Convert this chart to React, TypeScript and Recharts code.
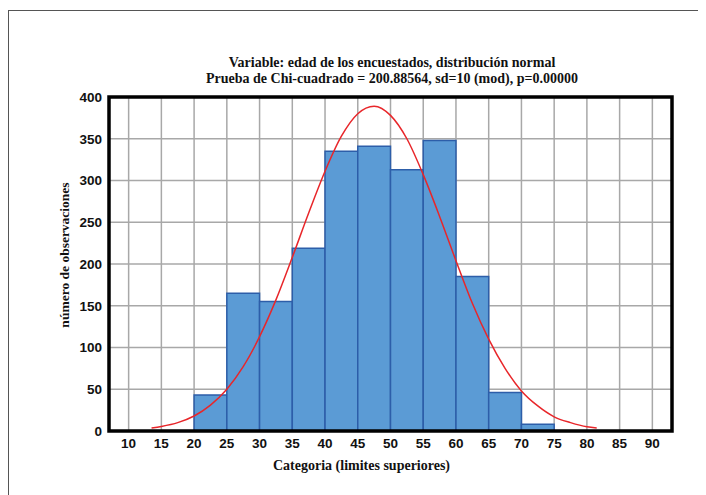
import React from "react";
import { ComposedChart, Line, XAxis, YAxis, CartesianGrid, ReferenceArea } from "recharts";

// Histogram bins (lower/upper limits) and observed counts
const binLower = [20, 25, 30, 35, 40, 45, 50, 55, 60, 65, 70];
const binUpper = [25, 30, 35, 40, 45, 50, 55, 60, 65, 70, 75];
const counts = [43, 165, 155, 219, 335, 341, 313, 348, 185, 46, 8];

// Fitted normal curve
const curveX = [13.5, 15, 17.5, 20, 22.5, 25, 27.5, 30, 32.5, 35, 37.5, 40, 42.5, 45, 47.5, 50, 52.5, 55, 57.5, 60, 62.5, 65, 67.5, 70, 72.5, 75, 77.5, 80, 81.5];
const curveY = [3.5, 5.4, 10, 18, 31, 50, 77, 113, 157, 208, 261, 311, 353, 380, 389, 378, 350, 307, 257, 204, 153, 110, 75, 48, 30, 17, 10, 5, 3.5];

const xTicks = [10, 15, 20, 25, 30, 35, 40, 45, 50, 55, 60, 65, 70, 75, 80, 85, 90];
const yTicks = [0, 50, 100, 150, 200, 250, 300, 350, 400];

const titleLines = [
  "Variable: edad de los encuestados, distribución normal",
  "Prueba de Chi-cuadrado = 200.88564, sd=10 (mod), p=0.00000",
];

const serif = "'Liberation Serif', 'Times New Roman', serif";
const sans = "'Liberation Sans', Arial, sans-serif";
const tickStyle = { fill: "#111", fontSize: 13.5, fontWeight: 700, fontFamily: sans };

export default function App() {
  const data = curveX.map((x, i) => ({ x, y: curveY[i] }));
  return (
    <div style={{ position: "relative", width: 698, height: 487 }}>
      <div style={{ position: "absolute", left: 0, top: 2, right: 0, bottom: -10, borderLeft: "1.5px solid #555", borderTop: "1.5px solid #555" }} />
      <div style={{ position: "absolute", left: 0, width: 768, top: 47, textAlign: "center", fontFamily: serif, fontWeight: 700, fontSize: 14, lineHeight: "16px", color: "#111" }}>
        {titleLines.map((t) => (
          <div key={t}>{t}</div>
        ))}
      </div>
      <div style={{ position: "absolute", left: 265, top: 450, fontFamily: serif, fontWeight: 700, fontSize: 14, color: "#111", whiteSpace: "nowrap" }}>
        Categoria (limites superiores)
      </div>
      <div style={{ position: "absolute", left: 57, top: 247, width: 0, height: 0 }}>
        <div style={{ position: "absolute", transform: "translate(-50%, -50%) rotate(-90deg)", fontFamily: serif, fontWeight: 700, fontSize: 13.5, color: "#111", whiteSpace: "nowrap" }}>
          número de observaciones
        </div>
      </div>
      <ComposedChart width={698} height={487} data={data} margin={{ top: 89, right: 34, bottom: 34, left: 41 }} style={{ position: "absolute", left: 0, top: 0 }}>
        <CartesianGrid stroke="#a8a8a8" strokeWidth={1.5} />
        <XAxis dataKey="x" type="number" domain={[7, 93]} ticks={xTicks} interval={0} allowDataOverflow axisLine={false} tickLine={false} tickSize={5} tickMargin={2} height={30} tick={tickStyle} />
        <YAxis type="number" domain={[0, 400]} ticks={yTicks} interval={0} axisLine={false} tickLine={false} tickSize={4} tickMargin={3} width={60} tick={tickStyle} />
        {binLower.map((lo, i) => (
          <ReferenceArea key={lo} x1={lo} x2={binUpper[i]} y1={0} y2={counts[i]} fill="#5b9bd5" fillOpacity={1} stroke="#2d5ea9" strokeWidth={1.5} />
        ))}
        <Line type="monotone" dataKey="y" stroke="#e8262a" strokeWidth={1.5} dot={false} activeDot={false} isAnimationActive={false} />
        <ReferenceArea x1={7} x2={93} y1={0} y2={400} fill="none" fillOpacity={0} stroke="#000" strokeWidth={3.5} />
      </ComposedChart>
    </div>
  );
}
